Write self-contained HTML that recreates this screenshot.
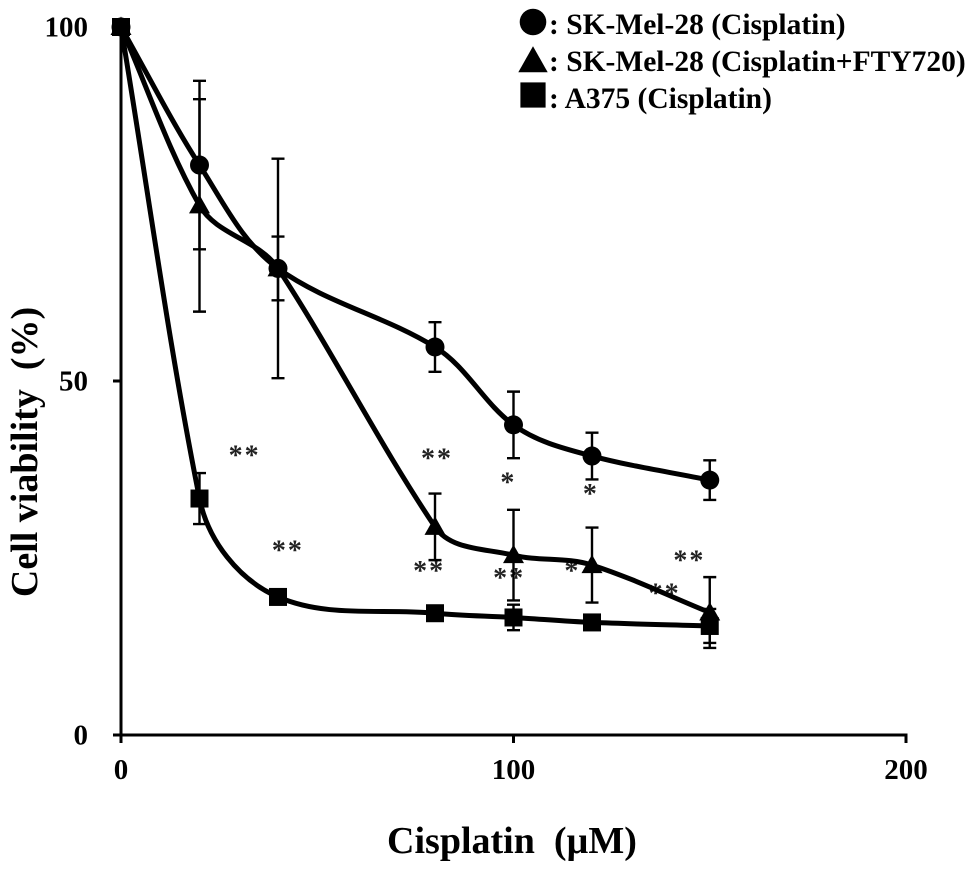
<!DOCTYPE html>
<html lang="en">
<head>
<meta charset="utf-8">
<title>Cell viability vs Cisplatin</title>
<style>
html,body{margin:0;padding:0;background:#fff;width:979px;height:872px;overflow:hidden}
svg{display:block;filter:blur(0.35px)}
text{font-family:"Liberation Serif",serif;font-weight:bold;fill:#000;white-space:pre}
</style>
</head>
<body>
<svg id="chart" xmlns="http://www.w3.org/2000/svg" width="979" height="872" viewBox="0 0 979 872"></svg>
<script>
const doses = [0, 20, 40, 80, 100, 120, 150];
const circleValues = [100, 80.5, 65.9, 54.8, 43.8, 39.4, 36.0];
const circleErrors = [0, 11.9, 4.5, 3.5, 4.7, 3.3, 2.8];
const triangleValues = [100, 74.8, 65.9, 29.4, 25.4, 24.0, 17.3];
const triangleErrors = [0, 15.0, 15.5, 4.7, 6.4, 5.3, 5.0];
const squareValues = [100, 33.4, 19.5, 17.2, 16.6, 15.9, 15.4];
const squareErrors = [0, 3.6, 0, 0, 1.8, 0, 2.4];
const xTicks = [0, 100, 200];
const yTicks = [0, 50, 100];
const legendLabels = [": SK-Mel-28 (Cisplatin)", ": SK-Mel-28 (Cisplatin+FTY720)", ": A375 (Cisplatin)"];
const sigLabels = ["**", "**", "**", "*", "*", "**", "**", "*", "**", "**"];
const sigDoses = [31.5, 42.5, 80.5, 98.7, 119.7, 78.5, 98.9, 115, 144.8, 138.5];
const sigValues = [40.3, 26.9, 39.9, 36.5, 34.9, 24.0, 23.0, 24.0, 25.5, 20.8];

const NS = "http://www.w3.org/2000/svg";
const svg = document.getElementById("chart");
const xScale = v => 121 + v * 3.925;
const yScale = v => 735 - v * 7.08;

function make(tag, attrs, parent) {
  const el = document.createElementNS(NS, tag);
  for (const k in attrs) el.setAttribute(k, attrs[k]);
  (parent || svg).appendChild(el);
  return el;
}
function curvePath(xs, ys) {
  const p = xs.map((x, i) => [xScale(x), yScale(ys[i])]);
  const tangent = i => {
    const a = p[Math.max(i - 1, 0)], c = p[i], b = p[Math.min(i + 1, p.length - 1)];
    const ax = c[0] - a[0], ay = c[1] - a[1], bx = b[0] - c[0], by = b[1] - c[1];
    const la = Math.hypot(ax, ay), lb = Math.hypot(bx, by);
    const dx = ax * la + bx * lb, dy = ay * la + by * lb, n = Math.hypot(dx, dy) || 1;
    return [dx / n, dy / n];
  };
  let d = "M" + p[0][0] + " " + p[0][1];
  for (let i = 0; i < p.length - 1; i++) {
    const p1 = p[i], p2 = p[i + 1];
    const len = Math.hypot(p2[0] - p1[0], p2[1] - p1[1]) * 0.34;
    const t1 = tangent(i), t2 = tangent(i + 1);
    d += " C" + (p1[0] + t1[0] * len) + " " + (p1[1] + t1[1] * len) + " " + (p2[0] - t2[0] * len) + " " + (p2[1] - t2[1] * len) + " " + p2[0] + " " + p2[1];
  }
  return d;
}
function drawMarker(kind, cx, cy, parent, name, size) {
  const k = size || 1;
  let el;
  if (kind === "circle") {
    el = make("circle", {cx: cx, cy: cy, r: 9.5 * k, fill: "#000"}, parent);
  } else if (kind === "triangle") {
    el = make("polygon", {points: cx + "," + (cy - 10.5 * k) + " " + (cx + 10.5 * k) + "," + (cy + 8 * k) + " " + (cx - 10.5 * k) + "," + (cy + 8 * k), fill: "#000"}, parent);
  } else {
    el = make("rect", {x: cx - 9 * k, y: cy - 9 * k, width: 18 * k, height: 18 * k, fill: "#000"}, parent);
  }
  
  
}

/* significance labels sit behind the data */
const sigGroup = make("g", {});


sigLabels.forEach((label, i) => {
  const t = make("text", {x: xScale(sigDoses[i]), y: yScale(sigValues[i]) + 15, "text-anchor": "middle", "font-size": 28, "letter-spacing": 2}, sigGroup);
  t.style.fill = "#222";
  t.textContent = label;
  
  
});

/* axes */
const axes = make("g", {stroke: "#000", "stroke-width": 3, fill: "none"});


const yAxis = make("line", {x1: xScale(0), y1: yScale(100) - 1, x2: xScale(0), y2: yScale(0) + 1.5}, axes);


const xAxis = make("line", {x1: xScale(0) - 1.5, y1: yScale(0), x2: xScale(200) + 1.5, y2: yScale(0)}, axes);



yTicks.forEach(v => {
  const tick = make("line", {x1: xScale(0) - 8, y1: yScale(v), x2: xScale(0), y2: yScale(v)}, axes);
  
  
  const t = make("text", {x: 88, y: yScale(v) + 9.5, "text-anchor": "end", "font-size": 29});
  t.textContent = v;
  
  
});
xTicks.forEach(v => {
  const tick = make("line", {x1: xScale(v), y1: yScale(0), x2: xScale(v), y2: yScale(0) + 8}, axes);
  
  
  const t = make("text", {x: xScale(v), y: 779, "text-anchor": "middle", "font-size": 29});
  t.textContent = v;
  
  
});

const xTitle = make("text", {x: 512, y: 853, "text-anchor": "middle", "font-size": 38});
xTitle.textContent = "Cisplatin  (µM)";


const yTitle = make("text", {x: 0, y: 0, "text-anchor": "middle", "font-size": 38, transform: "translate(37 452) rotate(-90)"});
yTitle.textContent = "Cell viability  (%)";



/* series */
const series = [
  {name: "cisplatin-sk-mel-28", kind: "circle", values: circleValues, errors: circleErrors},
  {name: "cisplatin-fty720-sk-mel-28", kind: "triangle", values: triangleValues, errors: triangleErrors},
  {name: "cisplatin-a375", kind: "square", values: squareValues, errors: squareErrors}
];
series.forEach(s => {
  const g = make("g", {});
  
  
  s.errors.forEach((e, i) => {
    if (!e) return;
    const x = xScale(doses[i]), hi = yScale(s.values[i] + e), lo = yScale(s.values[i] - e);
    const bar = make("path", {d: "M" + x + " " + hi + "V" + lo + "M" + (x - 6.5) + " " + hi + "H" + (x + 6.5) + "M" + (x - 6.5) + " " + lo + "H" + (x + 6.5), stroke: "#000", "stroke-width": 2.4, fill: "none"}, g);
    
    
  });
  const line = make("path", {d: curvePath(doses, s.values), stroke: "#000", "stroke-width": 5, fill: "none", "stroke-linejoin": "round"}, g);
  
  
  doses.forEach((d, i) => drawMarker(s.kind, xScale(d), yScale(s.values[i]), g, s.kind + '-point'));
});

/* legend */
const legend = make("g", {});


const legendMarkerY = [22, 61, 95];
const legendTextY = [34, 71, 108];
legendLabels.forEach((label, i) => {
  drawMarker(series[i].kind, 533, legendMarkerY[i], legend, 'legend-marker', 1.4);
  const t = make("text", {x: 549, y: legendTextY[i], "font-size": 29.5}, legend);
  t.textContent = label;
  
  
});
</script>
</body>
</html>
